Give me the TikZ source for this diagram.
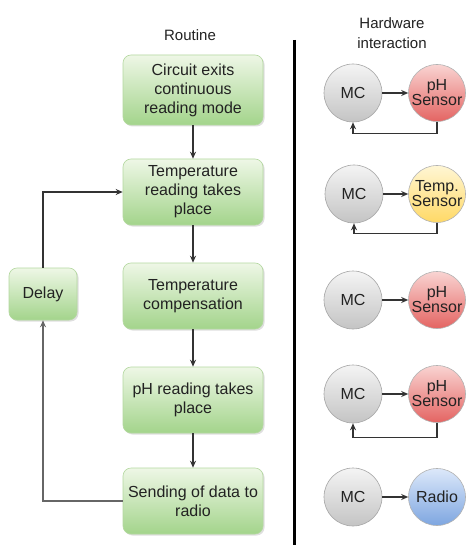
\documentclass[tikz,border=0pt]{standalone}
\usepackage{fontspec}
\setmainfont{Liberation Sans}
\usetikzlibrary{arrows.meta,shadows}
\definecolor{gtop}{HTML}{EEF7E6}
\definecolor{gbot}{HTML}{A3D48B}
\definecolor{gline}{HTML}{B4D8A0}
\definecolor{mctop}{HTML}{F4F4F4}
\definecolor{mcbot}{HTML}{C4C4C4}
\definecolor{phtop}{HTML}{F9D4D2}
\definecolor{phbot}{HTML}{E46462}
\definecolor{tptop}{HTML}{FFF6D4}
\definecolor{tpbot}{HTML}{FFD966}
\definecolor{rdtop}{HTML}{DCE8FA}
\definecolor{rdbot}{HTML}{7EA6E0}
\definecolor{txt}{HTML}{222222}
\definecolor{lnc}{HTML}{333333}
\begin{document}
\begin{tikzpicture}[x=1pt,y=-1pt,
  stepbox/.style={rounded corners=8pt, draw=gline, line width=0.6pt,
    top color=gtop, bottom color=gbot, minimum width=140pt, minimum height=66pt,
    align=center, text=txt, font=\fontsize{16}{19}\selectfont, inner sep=2pt,
    drop shadow={opacity=0.25, shadow xshift=1.5pt, shadow yshift=-1.5pt}},
  ball/.style={circle, draw=#1, line width=0.6pt, minimum size=57pt, inner sep=0pt,
    align=center, text=txt, font=\fontsize{16}{15}\selectfont},
  mcball/.style={ball=gray!70, top color=mctop, bottom color=mcbot, minimum size=58pt},
  phball/.style={ball=gray!60, top color=phtop, bottom color=phbot},
  tpball/.style={ball=gray!60, top color=tptop, bottom color=tpbot},
  rdball/.style={ball=gray!60, top color=rdtop, bottom color=rdbot},
  arr/.style={draw=lnc, line width=1.1pt, -{Stealth[length=7pt,width=6pt]}},
  ttl/.style={align=center, text=txt, font=\fontsize{15}{20}\selectfont}]
\useasboundingbox (0,0) rectangle (469,545);
\fill[white] (0,0) rectangle (469,545);

% titles
\node[ttl] (troutine) at (190,35) {Routine};
\node[ttl] (thw) at (392,33) {Hardware\\interaction};

% divider
\coordinate (dtop) at (294,40);
\coordinate (dbot) at (294,545);
\draw[black, line width=3pt] (dtop) -- (dbot);

% routine boxes
\node[stepbox, minimum height=70pt] (b1) at (193,90) {Circuit exits\\continuous\\reading mode};
\node[stepbox] (b2) at (193,192) {Temperature\\reading takes\\place};
\node[stepbox] (b3) at (193,296) {Temperature\\compensation};
\node[stepbox] (b4) at (193,400) {pH reading takes\\place};
\node[stepbox] (b5) at (193,501) {Sending of data to\\radio};
\node[stepbox, minimum width=68pt, minimum height=52pt] (delay) at (43,294) {Delay};

\draw[arr] (b1) -- (b2);
\draw[arr] (b2) -- (b3);
\draw[arr] (b3) -- (b4);
\draw[arr] (b4) -- (b5);
\draw[arr, draw=gray!80!black] (b5.west) -| (delay.south);
\draw[arr] (delay.north) |- (b2.west);

% hardware rows
\node[mcball] (mc1) at (353,93) {MC};
\node[phball] (s1) at (437,93) {pH\\Sensor};
\draw[arr] (mc1) -- (s1);
\draw[arr] (s1.south) -- ++(0,12) -| (mc1.south);

\node[mcball] (mc2) at (354,194) {MC};
\node[tpball] (s2) at (437,194) {Temp.\\Sensor};
\draw[arr] (mc2) -- (s2);
\draw[arr] (s2.south) -- ++(0,11) -| (mc2.south);

\node[mcball] (mc3) at (353,300) {MC};
\node[phball] (s3) at (437,300) {pH\\Sensor};
\draw[arr] (mc3) -- (s3);

\node[mcball] (mc4) at (353,394) {MC};
\node[phball] (s4) at (437,394) {pH\\Sensor};
\draw[arr] (mc4) -- (s4);
\draw[arr] (s4.south) -- ++(0,15) -| (mc4.south);

\node[mcball] (mc5) at (353,497) {MC};
\node[rdball] (s5) at (437,497) {Radio};
\draw[arr] (mc5) -- (s5);
\end{tikzpicture}
\end{document}
